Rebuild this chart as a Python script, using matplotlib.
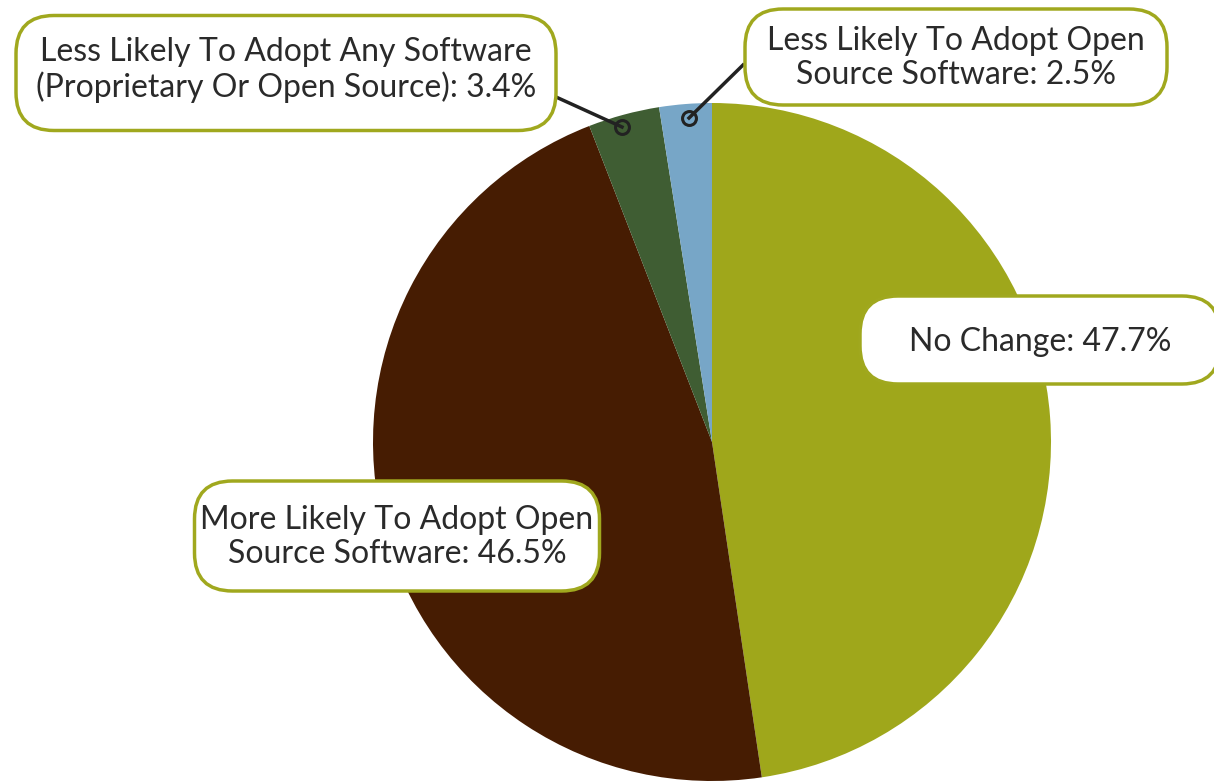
import matplotlib.pyplot as plt
from matplotlib.patches import FancyBboxPatch

labels = ["No Change", "More Likely To Adopt Open\nSource Software",
          "Less Likely To Adopt Any Software\n(Proprietary Or Open Source)",
          "Less Likely To Adopt Open\nSource Software"]
values = [47.7, 46.5, 3.4, 2.5]
colors = ["#9fa71b", "#461c02", "#3f5d33", "#77a6c7"]

plt.rcParams['font.family'] = ['Lato', 'DejaVu Sans']

fig = plt.figure(figsize=(12.14, 7.81), dpi=100)
ax = fig.add_axes([0, 0, 1, 1])

# pie drawn in pixel-like coords (y down, so counterclock flips)
wedges, _ = ax.pie(values, colors=colors, startangle=-90, counterclock=True,
                   center=(712, 442), radius=339, frame=True)
ax.set_xlim(0, 1214)
ax.set_ylim(781, 0)
ax.set_aspect('equal')
ax.axis('off')

olive = "#a0a81e"
# label box centers / sizes (layout)
boxes = [
    (1040, 340, 360, 88, 342),
    (397, 536, 405, 110, 537),
    (286, 73, 540, 115, 70),
    (956, 57, 422, 96, 58),
]
for (cx, cy, w, h, ty), lab, v in zip(boxes, labels, values):
    r = 38
    p = FancyBboxPatch((cx - w / 2 + r, cy - h / 2 + r), w - 2 * r, h - 2 * r,
                       boxstyle=f"round,pad={r},rounding_size={r}",
                       fc="white", ec=olive, lw=2.5, zorder=5, clip_on=False,
                       mutation_aspect=1)
    ax.add_patch(p)
    ax.text(cx, ty, f"{lab}: {v}%", ha='center', va='center', fontsize=23,
            color="#2a2a2a", zorder=6, linespacing=1.15)

# leader lines for the two small slices
for (x0, y0), (x1, y1) in [((556, 97), (622, 127)), ((743, 65), (689, 118))]:
    ax.plot([x0, x1], [y0, y1], color="#222222", lw=2.5, zorder=4)
    ax.plot(x1, y1, 'o', ms=10, mfc='none', mec="#222222", mew=2.2, zorder=4)

fig.savefig("out.png", dpi=100)
